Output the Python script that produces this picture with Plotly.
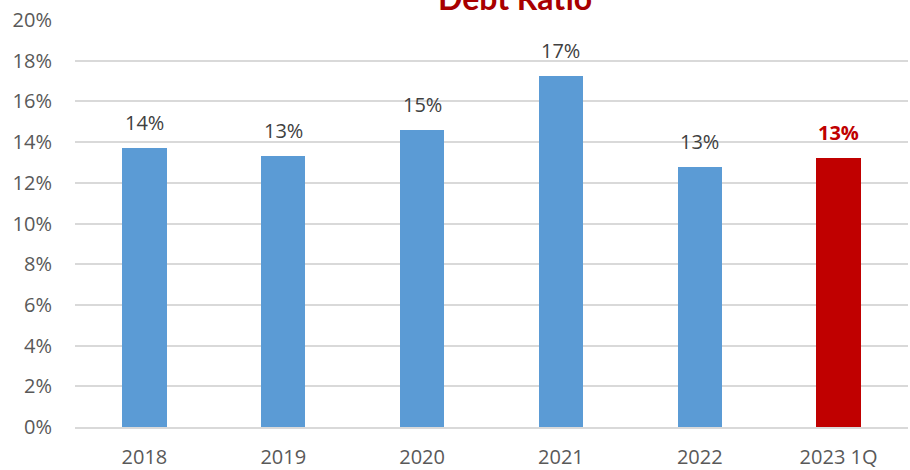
import plotly.graph_objects as go

categories = ["2018", "2019", "2020", "2021", "2022", "2023 1Q"]
values = [13.7, 13.3, 14.6, 17.25, 12.8, 13.2]
labels = ["14%", "13%", "15%", "17%", "13%", "13%"]
colors = ["#5B9BD5"] * 5 + ["#C00000"]
label_colors = ["#404040"] * 5 + ["#C00000"]
tick_vals = [0, 2, 4, 6, 8, 10, 12, 14, 16, 18, 20]
tick_text = [f"{v}%" for v in tick_vals]

FONT = "Open Sans, DejaVu Sans, sans-serif"

fig = go.Figure()
fig.add_trace(go.Bar(
    x=categories, y=values, marker=dict(color=colors, line=dict(width=0)),
    width=0.32, hoverinfo="skip",
))
for i, (v, t, lc) in enumerate(zip(values, labels, label_colors)):
    bold = lc == "#C00000"
    fig.add_annotation(
        x=i, y=v, text=f"<b>{t}</b>" if bold else t, showarrow=False,
        yanchor="bottom", yshift=10,
        font=dict(family=FONT, size=20, color=lc),
    )

fig.add_annotation(
    xref="paper", yref="paper", x=0.528, y=1, yshift=1, yanchor="bottom",
    text="<b>Debt Ratio</b>", showarrow=False,
    font=dict(family="Lato, DejaVu Sans, sans-serif", size=32, color="#A80000"),
)

fig.update_layout(
    width=910, height=470,
    margin=dict(l=75, r=2, t=20, b=43),
    plot_bgcolor="white", paper_bgcolor="white",
    showlegend=False, bargap=0,
    xaxis=dict(
        type="category", range=[-0.5, 5.5], automargin=False,
        showgrid=False, showline=True, linecolor="#D9D9D9", linewidth=1.5,
        tickfont=dict(family=FONT, size=20, color="#595959"),
        ticks="", ticklabelstandoff=11,
    ),
    yaxis=dict(
        range=[0, 20], tickvals=tick_vals, ticktext=tick_text, automargin=False,
        showgrid=True, gridcolor="#D9D9D9", gridwidth=1.5, zeroline=False,
        tickfont=dict(family=FONT, size=20, color="#595959"),
        ticks="", ticklabelstandoff=22,
    ),
)

fig.write_html("out.html")
